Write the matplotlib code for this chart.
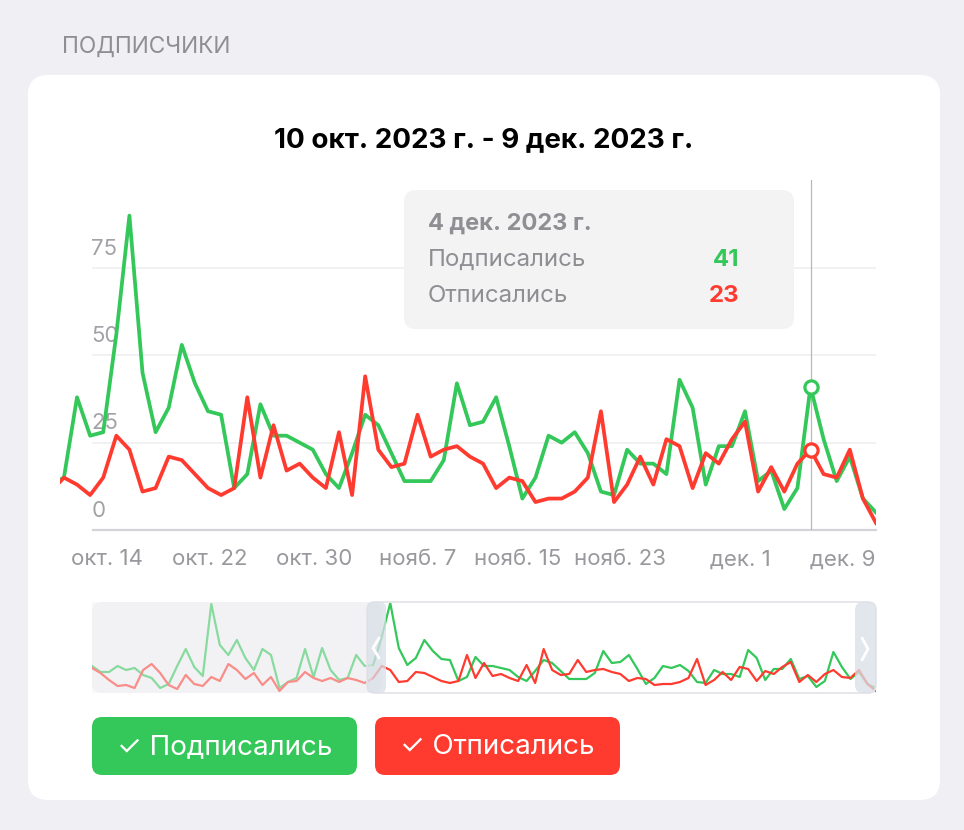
import matplotlib
matplotlib.use("Agg")
import matplotlib.pyplot as plt
import matplotlib.dates as mdates
from matplotlib.patches import FancyBboxPatch, Rectangle
import numpy as np
import pandas as pd

plt.rcParams['font.family'] = ['Inter', 'DejaVu Sans']

# daily data, 8 Sep 2023 .. 9 Dec 2023
dates = pd.date_range("2023-09-08", "2023-12-09", freq="D")

subscribed = [
    27, 21, 21, 27, 23, 25, 18, 15, 5, 9, 27, 44, 26, 17, 89, 48, 38, 53, 35, 23,
    44, 38, 5, 11, 15, 44, 16, 45, 23, 13,
    # Oct 8 ..
    15, 38, 27, 28, 56, 90, 45, 28, 35, 53, 42, 34, 33, 12, 16, 36, 27, 27, 25, 23,
    16, 12, 22, 33,
    # Nov
    30, 22, 14, 14, 14, 20, 42, 30, 31, 38, 24, 9, 15, 27, 25, 28, 22, 11, 10, 23,
    19, 19, 16, 43, 35, 13, 24, 24, 34, 14,
    # Dec
    17, 6, 12, 41, 26, 14, 21, 9, 5,
]
unsubscribed = [
    25, 20, 13, 7, 8, 5, 23, 29, 20, 8, 4, 18, 9, 7, 16, 12, 29, 23, 14, 20,
    8, 16, 2, 11, 12, 21, 15, 12, 15, 11,
    # Oct 8 ..
    15, 13, 10, 15, 27, 23, 11, 12, 21, 20, 16, 12, 10, 12, 38, 15, 30, 17, 19, 15,
    12, 28, 10, 44,
    # Nov
    23, 18, 19, 33, 21, 23, 24, 21, 19, 12, 15, 14, 8, 9, 9, 11, 15, 34, 8, 13,
    21, 13, 26, 24, 12, 22, 19, 26, 31, 11,
    # Dec
    18, 11, 19, 23, 16, 15, 23, 9, 2,
]

tick_dates = pd.to_datetime(["2023-10-14", "2023-10-22", "2023-10-30", "2023-11-07",
                             "2023-11-15", "2023-11-23", "2023-12-01", "2023-12-09"])
tick_labels = ["окт. 14", "окт. 22", "окт. 30", "нояб. 7",
               "нояб. 15", "нояб. 23", "дек. 1", "дек. 9"]
y_ticks = [0, 25, 50, 75]

sel_date = pd.Timestamp("2023-12-04")
sel_sub = 41
sel_unsub = 23

GREEN = "#34c759"
RED = "#ff3b30"
GREY_TXT = "#8e8e93"

W, H = 964, 830
fig = plt.figure(figsize=(W / 100, H / 100), dpi=100)
fig.patch.set_facecolor("#efeff4")


def box(x0, y0, x1, y1):
    return [x0 / W, 1 - y1 / H, (x1 - x0) / W, (y1 - y0) / H]


def pixel_axes(z):
    a = fig.add_axes([0, 0, 1, 1], zorder=z)
    a.set_xlim(0, W)
    a.set_ylim(H, 0)
    a.axis("off")
    a.patch.set_alpha(0)
    return a


bg = pixel_axes(0)
bg.add_patch(FancyBboxPatch((28, 75), 912, 725, boxstyle="round,pad=0,rounding_size=20",
                            fc="white", ec="none"))
bg.text(62, 47, "ПОДПИСЧИКИ", fontsize=16.3, color=GREY_TXT, ha="left", va="center")
bg.text(484, 140, "10 окт. 2023 г. - 9 дек. 2023 г.", fontsize=20, fontweight="bold",
        color="black", ha="center", va="center")

# main chart
ax = fig.add_axes(box(60, 180, 876, 530), zorder=2)
ax.patch.set_alpha(0)
for s in ax.spines.values():
    s.set_visible(False)
end = mdates.date2num(dates[-1])
ax.set_xlim(end - 62.3, end)
ax.set_ylim(0, 100.2)
ax.set_yticks([])

gx = 33 / 816
for v in y_ticks:
    if v == 0:
        ax.axhline(v, xmin=gx, color="#d4d4d8", lw=1.6, clip_on=False, zorder=0)
    else:
        ax.axhline(v, xmin=gx, color="#ededf0", lw=1.1, zorder=0)
    ax.annotate(str(v), xy=(gx - 0.002, v), xycoords=ax.get_yaxis_transform(),
                xytext=(0, 9.5), textcoords="offset points", ha="left", va="baseline",
                fontsize=16, color="#a2a2a7")

ax.axvline(sel_date, color="#b8b8bc", lw=0.9, zorder=1)
ax.plot(dates, subscribed, color=GREEN, lw=2.7, zorder=3)
ax.plot(dates, unsubscribed, color=RED, lw=2.7, zorder=3)
ax.plot([sel_date], [sel_sub], "o", ms=9.5, mfc="white", mec=GREEN, mew=2.3, zorder=4)
ax.plot([sel_date], [sel_unsub], "o", ms=9.5, mfc="white", mec=RED, mew=2.3, zorder=4)

ax.set_xticks(tick_dates)
ax.set_xticklabels(tick_labels, ha="right")
ax.tick_params(axis="x", length=0, pad=14, labelsize=16, labelcolor="#98989d")

# navigator
bg.add_patch(FancyBboxPatch((92, 602), 290, 91, boxstyle="round,pad=0,rounding_size=10",
                            fc="#f2f2f5", ec="none"))
nav = fig.add_axes(box(92, 602, 876, 693), zorder=2)
nav.patch.set_alpha(0)
nav.axis("off")
nav.plot(dates, subscribed, color=GREEN, lw=1.6)
nav.plot(dates, unsubscribed, color=RED, lw=1.6)
nav.set_xlim(dates[0], dates[-1])
nav.set_ylim(0, 91)

top = pixel_axes(5)
top.add_patch(Rectangle((92, 602), 280, 91, fc="#f2f2f5", ec="none", alpha=0.45))
top.add_patch(FancyBboxPatch((367, 602), 509, 91, boxstyle="round,pad=0,rounding_size=8",
                             fc="none", ec="#e4e4e9", lw=1.3))
top.add_patch(FancyBboxPatch((367, 602), 19, 91, boxstyle="round,pad=0,rounding_size=6",
                             fc="#d9e0e8", ec="none", alpha=0.75))
top.add_patch(FancyBboxPatch((855, 602), 21, 91, boxstyle="round,pad=0,rounding_size=8",
                             fc="#d9e0e8", ec="none", alpha=0.75))
top.plot([379, 373, 379], [638, 648, 658], color="white", lw=2, solid_capstyle="round")
top.plot([862, 868, 862], [638, 649, 660], color="white", lw=2, solid_capstyle="round")

# tooltip
top.add_patch(FancyBboxPatch((404, 190), 390, 139, boxstyle="round,pad=0,rounding_size=12",
                             fc="#f3f3f4", ec="none"))
top.text(428, 224, "4 дек. 2023 г.", fontsize=17, fontweight="bold", color=GREY_TXT,
         ha="left", va="center")
top.text(428, 260, "Подписались", fontsize=17.3, color=GREY_TXT, ha="left", va="center")
top.text(739, 260, str(sel_sub), fontsize=17.3, fontweight="bold", color=GREEN,
         ha="right", va="center")
top.text(428, 296, "Отписались", fontsize=17.3, color=GREY_TXT, ha="left", va="center")
top.text(739, 296, str(sel_unsub), fontsize=17.3, fontweight="bold", color=RED,
         ha="right", va="center")

# legend buttons
top.add_patch(FancyBboxPatch((92, 717), 265, 58, boxstyle="round,pad=0,rounding_size=10",
                             fc=GREEN, ec="none"))
top.add_patch(FancyBboxPatch((375, 717), 245, 58, boxstyle="round,pad=0,rounding_size=10",
                             fc=RED, ec="none"))
top.text(225, 747, "✓ Подписались", fontsize=20, color="white", ha="center", va="center")
top.text(497, 747, "✓ Отписались", fontsize=20, color="white", ha="center", va="center")

fig.savefig("out.png", dpi=100, facecolor=fig.get_facecolor())
